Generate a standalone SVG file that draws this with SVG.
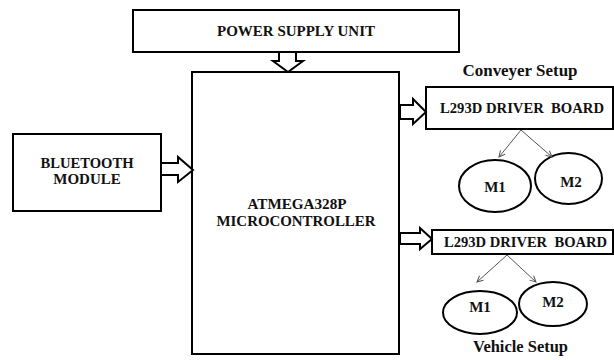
<svg xmlns="http://www.w3.org/2000/svg" width="614" height="360" viewBox="0 0 614 360" font-family="'Liberation Serif', 'Times New Roman', 'DejaVu Serif', serif">
<style>
.box{fill:#fff;stroke:#000;stroke-width:2}
.big{fill:#fff;stroke:#000;stroke-width:2;stroke-linejoin:miter}
text{font-family:'Liberation Serif','Times New Roman','DejaVu Serif',serif;font-weight:bold;font-size:15px;fill:#111;text-anchor:middle}
.thin{stroke:#555;stroke-width:1;fill:none}
.ell{fill:#fff;stroke:#000;stroke-width:2}
</style>
<defs>
<marker id="ah" markerWidth="8" markerHeight="8" refX="7" refY="4" orient="auto" markerUnits="userSpaceOnUse">
<path d="M1,1 L7,4 L1,7" fill="none" stroke="#555" stroke-width="1"/>
</marker>
</defs>
<rect width="614" height="360" fill="#fff"/>
<g id="power">
<rect class="box" x="133" y="10" width="326" height="42"/>
<text x="296" y="36" textLength="158" lengthAdjust="spacingAndGlyphs">POWER SUPPLY UNIT</text>
</g>
<g id="mcu">
<rect class="box" x="192" y="72" width="207" height="282"/>
<text x="297" y="209" textLength="99" lengthAdjust="spacingAndGlyphs">ATMEGA328P</text>
<text x="296" y="226" textLength="159" lengthAdjust="spacingAndGlyphs">MICROCONTROLLER</text>
</g>
<g id="bluetooth">
<rect class="box" x="13" y="134" width="148" height="77"/>
<text x="87" y="168" textLength="93" lengthAdjust="spacingAndGlyphs">BLUETOOTH</text>
<text x="87" y="184">MODULE</text>
</g>
<g id="driver1">
<text x="520" y="76" style="font-size:17px" textLength="115" lengthAdjust="spacingAndGlyphs">Conveyer Setup</text>
<rect class="box" x="426" y="87" width="187" height="42"/>
<text x="522" y="113" xml:space="preserve" textLength="164" lengthAdjust="spacingAndGlyphs">L293D DRIVER  BOARD</text>
</g>
<g id="m1a">
<ellipse class="ell" cx="495" cy="186" rx="36" ry="26"/>
<text x="495" y="192">M1</text>
</g>
<g id="m2a">
<ellipse class="ell" cx="568.5" cy="178.5" rx="33.5" ry="25.5"/>
<text x="571" y="187">M2</text>
</g>
<g id="driver2">
<rect class="box" x="432" y="230" width="181" height="24"/>
<text x="525.5" y="247" xml:space="preserve" textLength="163" lengthAdjust="spacingAndGlyphs">L293D DRIVER  BOARD</text>
</g>
<g id="m1b">
<ellipse class="ell" cx="480" cy="312.5" rx="37" ry="21.5"/>
<text x="480" y="312">M1</text>
</g>
<g id="m2b">
<ellipse class="ell" cx="553" cy="304" rx="34" ry="22"/>
<text x="553" y="307">M2</text>
</g>
<text x="520.5" y="352" style="font-size:16px" textLength="95" lengthAdjust="spacingAndGlyphs">Vehicle Setup</text>
<g id="connectors">
<polygon class="big" points="279,52 279,61 273,61 288,72 303,61 296,61 296,52"/>
<polygon class="big" points="161,163 178,163 178,157 193,170 178,182 178,175 161,175"/>
<polygon class="big" points="400,105 413,105 413,99 426,112 413,124 413,119 400,119"/>
<polygon class="big" points="400,233 420,233 420,228 432,239 420,249 420,244 400,244"/>
<line class="thin" x1="521" y1="130" x2="499" y2="157" marker-end="url(#ah)"/>
<line class="thin" x1="521" y1="130" x2="552" y2="157" marker-end="url(#ah)"/>
<line class="thin" x1="507" y1="255" x2="477" y2="282" marker-end="url(#ah)"/>
<line class="thin" x1="507" y1="255" x2="536" y2="282" marker-end="url(#ah)"/>
</g>
</svg>
